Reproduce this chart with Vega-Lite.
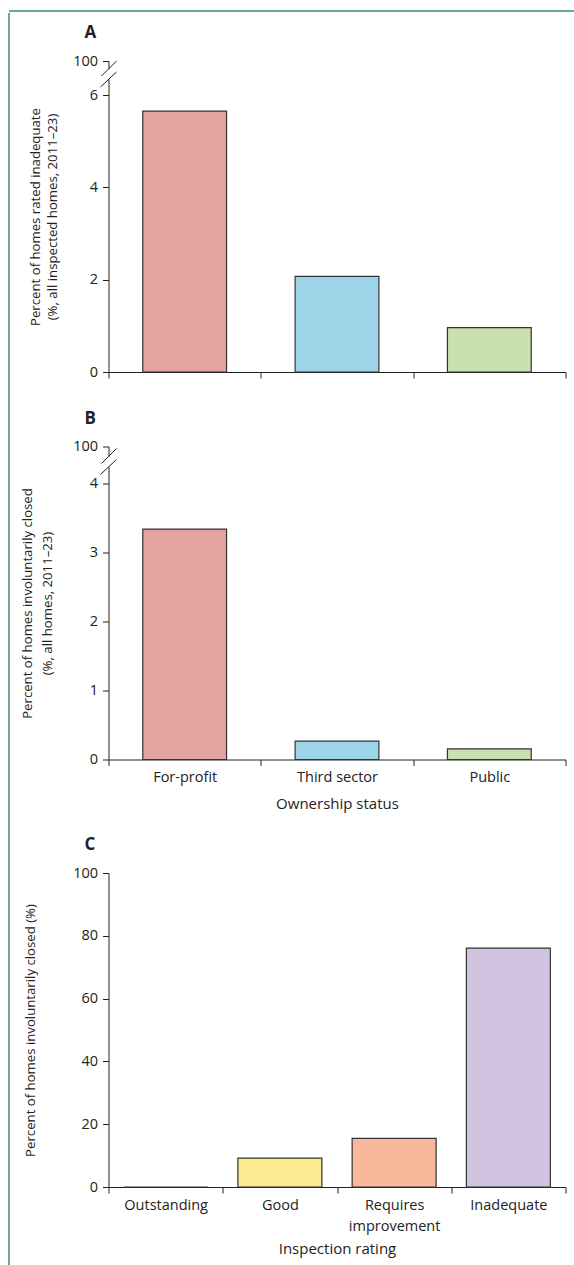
{
  "$schema": "https://vega.github.io/schema/vega-lite/v6.json",
  "padding": {"left": 8, "top": 9, "right": 0, "bottom": 0},
  "autosize": {"type": "pad"},
  "background": "white",
  "config": {
    "font": "Open Sans",
    "view": {"stroke": null},
    "axis": {
      "domainColor": "#222", "tickColor": "#222", "labelColor": "#222", "titleColor": "#222",
      "labelFont": "Open Sans", "titleFont": "Open Sans",
      "labelFontSize": 14.5, "titleFontSize": 13.2, "titleFontWeight": "normal",
      "tickSize": 6, "labelPadding": 3, "grid": false, "domainWidth": 1, "tickWidth": 1
    },
    "axisY": {"labelPadding": 5},
    "title": {"font": "Open Sans", "fontSize": 17, "fontWeight": "bold", "color": "#222"}
  },
  "spacing": 0,
  "resolve": {"scale": {"color": "independent"}},
  "vconcat": [
    {
      "width": 600, "height": 2,
      "view": {"fill": "#6aaa90", "stroke": null},
      "data": {"values": [{}]},
      "mark": {"type": "rule", "opacity": 0},
      "encoding": {}
    },
    {
      "spacing": 10.5,
      "resolve": {"scale": {"color": "independent"}},
      "hconcat": [
        {
          "width": 1, "height": 1204,
          "data": {"values": [{}]},
          "mark": {"type": "rule", "color": "#6aaa90", "strokeWidth": 2, "yOffset": -48},
          "encoding": {
            "x": {"datum": 0, "type": "quantitative", "scale": {"domain": [0, 1]}, "axis": null},
            "y": {"datum": 1, "type": "quantitative", "scale": {"domain": [0, 1]}, "axis": null},
            "y2": {"datum": 0}
          }
        },
        {
          "spacing": 30.5,
          "resolve": {"scale": {"color": "independent"}},
          "vconcat": [
            {
              "width": 457, "height": 311,
              "title": {"text": "A", "anchor": "start", "frame": "group", "dx": -24, "offset": 11},
              "resolve": {"scale": {"x": "independent"}},
              "layer": [
                {
                  "data": {"values": [
                    {"ownership": "For-profit", "percent": 5.65},
                    {"ownership": "Third sector", "percent": 2.07},
                    {"ownership": "Public", "percent": 0.96}
                  ]},
                  "mark": {"type": "bar", "width": {"band": 0.55}, "stroke": "#333", "strokeWidth": 1.2},
                  "encoding": {
                    "x": {"field": "ownership", "type": "nominal", "sort": null,
                          "scale": {"paddingInner": 0, "paddingOuter": 0},
                          "axis": {"title": null, "labels": false, "tickBand": "extent"}},
                    "y": {"field": "percent", "type": "quantitative",
                          "scale": {"domain": [0, 6, 100], "range": [311, 34, 0], "nice": false, "zero": false},
                          "axis": {"values": [0, 2, 4, 6, 100], "titlePadding": 13, "titleLineHeight": 17,
                                   "title": ["Percent of homes rated inadequate", "(%, all inspected homes, 2011–23)"]}},
                    "color": {"field": "ownership", "type": "nominal", "legend": null,
                              "scale": {"domain": ["For-profit", "Third sector", "Public"], "range": ["#e2a3a1", "#9dd4e7", "#c9e0b1"]}}
                  }
                },
                {
                  "data": {"values": [{}]},
                  "mark": {"type": "rule", "color": "white", "strokeWidth": 4},
                  "encoding": {
                    "x": {"datum": 0, "type": "quantitative", "scale": {"domain": [0, 1]}, "axis": null},
                    "y": {"datum": 77.9, "type": "quantitative", "scale": {"domain": [0, 6, 100], "range": [311, 34, 0], "nice": false, "zero": false}},
                    "y2": {"datum": 48.9}
                  }
                },
                {
                  "data": {"values": [{}]},
                  "mark": {"type": "rule", "color": "#222", "strokeWidth": 1, "xOffset": -7, "x2Offset": 8},
                  "encoding": {
                    "x": {"datum": 0, "type": "quantitative", "scale": {"domain": [0, 1]}, "axis": null},
                    "x2": {"datum": 0},
                    "y": {"datum": 58.5, "type": "quantitative", "scale": {"domain": [0, 6, 100], "range": [311, 34, 0], "nice": false, "zero": false}},
                    "y2": {"datum": 100}
                  }
                },
                {
                  "data": {"values": [{}]},
                  "mark": {"type": "rule", "color": "#222", "strokeWidth": 1, "xOffset": -8, "x2Offset": 8},
                  "encoding": {
                    "x": {"datum": 0, "type": "quantitative", "scale": {"domain": [0, 1]}, "axis": null},
                    "x2": {"datum": 0},
                    "y": {"datum": 28.1, "type": "quantitative", "scale": {"domain": [0, 6, 100], "range": [311, 34, 0], "nice": false, "zero": false}},
                    "y2": {"datum": 69.6}
                  }
                }
              ]
            },
            {
              "spacing": 24.5,
              "resolve": {"scale": {"color": "independent"}},
              "vconcat": [
                {
                  "width": 457, "height": 313,
                  "title": {"text": "B", "anchor": "start", "frame": "group", "dx": -24, "offset": 11},
                  "resolve": {"scale": {"x": "independent"}},
                  "layer": [
                    {
                      "data": {"values": [
                        {"ownership": "For-profit", "percent": 3.34},
                        {"ownership": "Third sector", "percent": 0.265},
                        {"ownership": "Public", "percent": 0.155}
                      ]},
                      "mark": {"type": "bar", "width": {"band": 0.55}, "stroke": "#333", "strokeWidth": 1.2},
                      "encoding": {
                        "x": {"field": "ownership", "type": "nominal", "sort": null,
                              "scale": {"paddingInner": 0, "paddingOuter": 0},
                              "axis": {"title": "Ownership status", "titleFontSize": 15, "labelAngle": 0, "tickBand": "extent", "labelPadding": 5, "titlePadding": 12}},
                        "y": {"field": "percent", "type": "quantitative",
                              "scale": {"domain": [0, 4, 100], "range": [313, 37, 0], "nice": false, "zero": false},
                              "axis": {"values": [0, 1, 2, 3, 4, 100], "titlePadding": 18, "titleLineHeight": 20,
                                       "title": ["Percent of homes involuntarily closed", "(%, all homes, 2011–23)"]}},
                        "color": {"field": "ownership", "type": "nominal", "legend": null,
                                  "scale": {"domain": ["For-profit", "Third sector", "Public"], "range": ["#e2a3a1", "#9dd4e7", "#c9e0b1"]}}
                      }
                    },
                    {
                      "data": {"values": [{}]},
                      "mark": {"type": "rule", "color": "white", "strokeWidth": 4},
                      "encoding": {
                        "x": {"datum": 0, "type": "quantitative", "scale": {"domain": [0, 1]}, "axis": null},
                        "y": {"datum": 74.1, "type": "quantitative", "scale": {"domain": [0, 4, 100], "range": [313, 37, 0], "nice": false, "zero": false}},
                        "y2": {"datum": 46.8}
                      }
                    },
                    {
                      "data": {"values": [{}]},
                      "mark": {"type": "rule", "color": "#222", "strokeWidth": 1, "xOffset": -7, "x2Offset": 8},
                      "encoding": {
                        "x": {"datum": 0, "type": "quantitative", "scale": {"domain": [0, 1]}, "axis": null},
                        "x2": {"datum": 0},
                        "y": {"datum": 55.9, "type": "quantitative", "scale": {"domain": [0, 4, 100], "range": [313, 37, 0], "nice": false, "zero": false}},
                        "y2": {"datum": 94.8}
                      }
                    },
                    {
                      "data": {"values": [{}]},
                      "mark": {"type": "rule", "color": "#222", "strokeWidth": 1, "xOffset": -8, "x2Offset": 8},
                      "encoding": {
                        "x": {"datum": 0, "type": "quantitative", "scale": {"domain": [0, 1]}, "axis": null},
                        "x2": {"datum": 0},
                        "y": {"datum": 27.4, "type": "quantitative", "scale": {"domain": [0, 4, 100], "range": [313, 37, 0], "nice": false, "zero": false}},
                        "y2": {"datum": 66.3}
                      }
                    }
                  ]
                },
                {
                  "width": 457, "height": 314,
                  "title": {"text": "C", "anchor": "start", "frame": "group", "dx": -24, "offset": 11},
                  "data": {"values": [
                    {"rating": "Outstanding", "percent": 0},
                    {"rating": "Good", "percent": 9.2},
                    {"rating": "Requires improvement", "percent": 15.5},
                    {"rating": "Inadequate", "percent": 76.1}
                  ]},
                  "mark": {"type": "bar", "width": {"band": 0.735}, "stroke": "#333", "strokeWidth": 1.2},
                  "encoding": {
                    "x": {"field": "rating", "type": "nominal", "sort": null,
                          "scale": {"paddingInner": 0, "paddingOuter": 0},
                          "axis": {"title": "Inspection rating", "titleFontSize": 15, "labelAngle": 0, "tickBand": "extent", "labelPadding": 5, "titlePadding": 9, "labelLineHeight": 21,
                                   "labelExpr": "datum.label == 'Requires improvement' ? ['Requires', 'improvement'] : datum.label"}},
                    "y": {"field": "percent", "type": "quantitative",
                          "scale": {"domain": [0, 100], "nice": false},
                          "axis": {"values": [0, 20, 40, 60, 80, 100], "titlePadding": 35.5,
                                   "title": "Percent of homes involuntarily closed (%)"}},
                    "color": {"field": "rating", "type": "nominal", "legend": null,
                              "scale": {"domain": ["Outstanding", "Good", "Requires improvement", "Inadequate"], "range": ["#ffffff", "#fde992", "#f8b89b", "#d1c3e0"]}}
                  }
                }
              ]
            }
          ]
        }
      ]
    }
  ]
}
